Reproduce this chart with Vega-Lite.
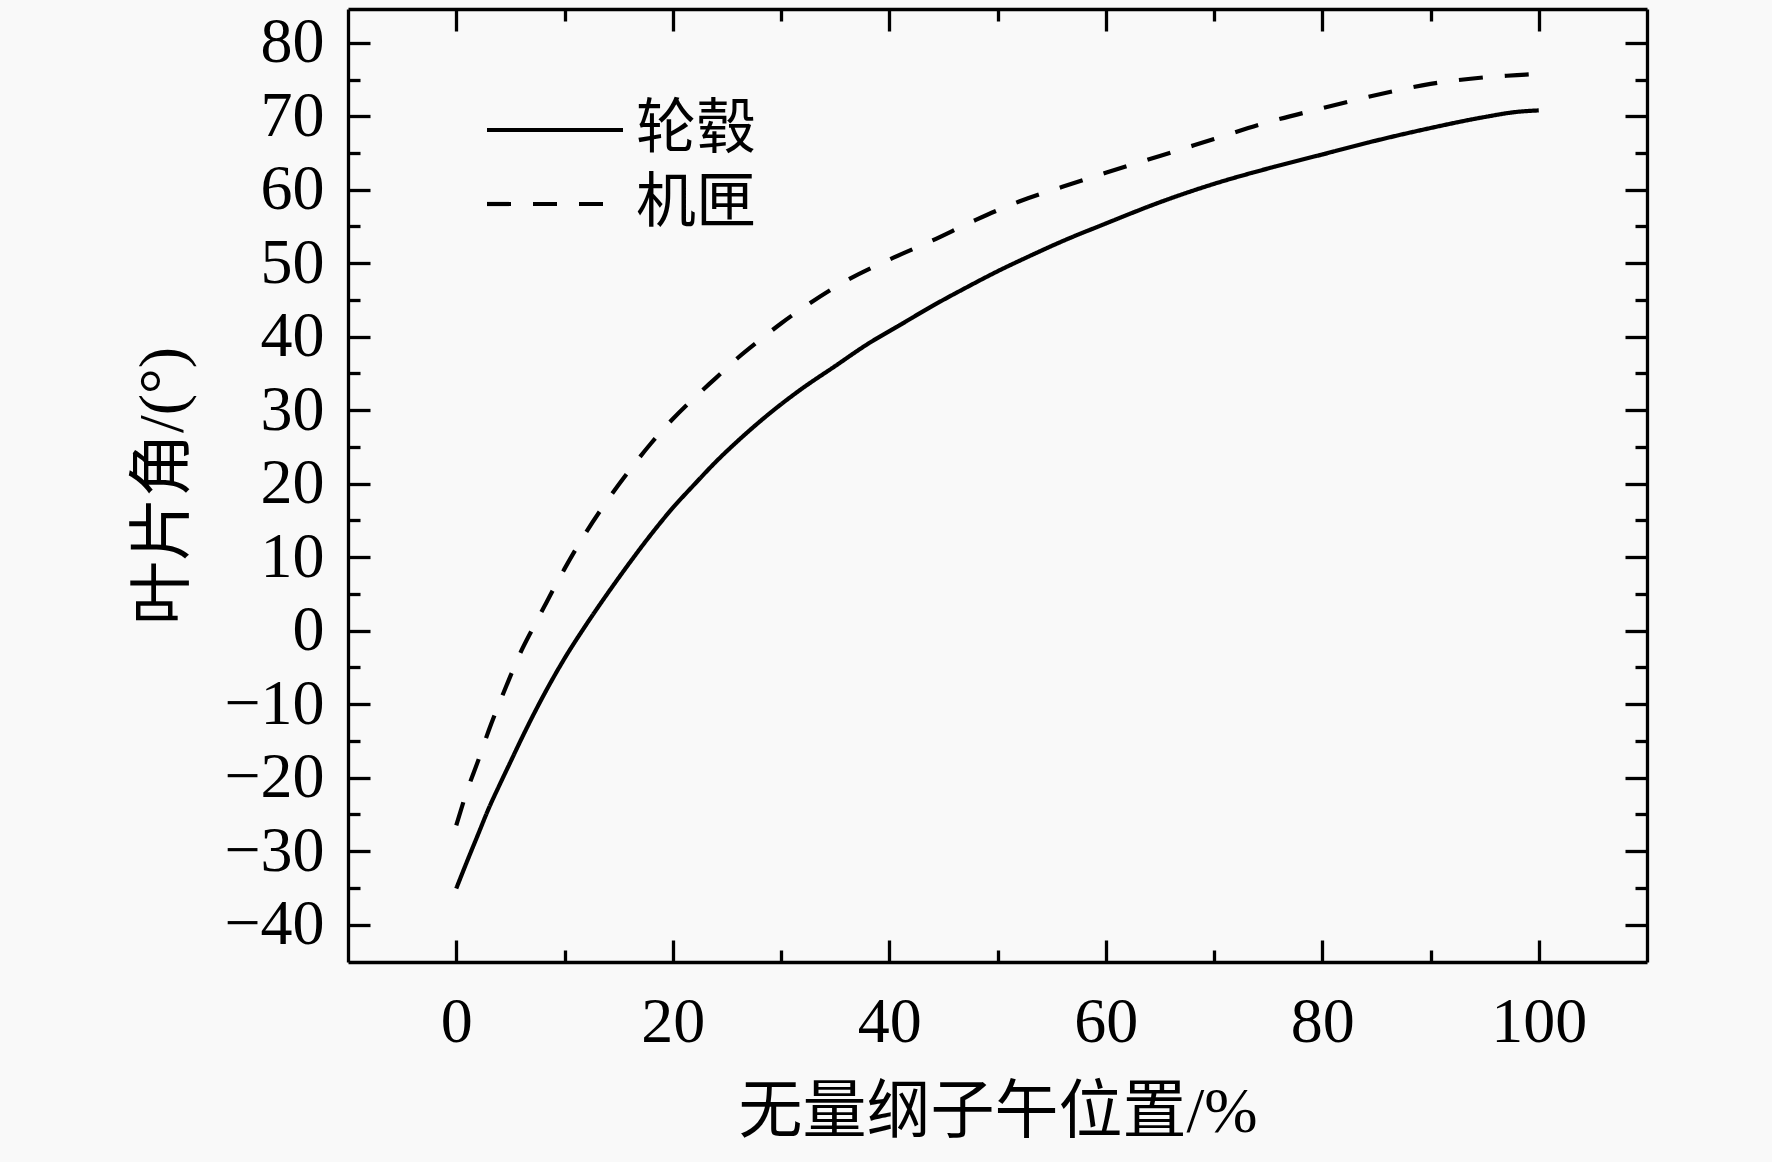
{
  "$schema": "https://vega.github.io/schema/vega-lite/v6.json",
  "width": 1299,
  "height": 953,
  "autosize": {"type": "none"},
  "padding": {"left": 348, "top": 9, "right": 125, "bottom": 200},
  "background": "#f9f9f9",
  "config": {
    "view": {"stroke": null},
    "axis": {
      "grid": false,
      "domainColor": "black",
      "domainWidth": 3.3,
      "tickColor": "black",
      "tickWidth": 3.3,
      "labelColor": "black",
      "labelFont": "Liberation Serif",
      "labelFontSize": 64,
      "titleColor": "black",
      "titleFont": "Liberation Serif, Noto Sans CJK SC",
      "titleFontSize": 64,
      "titleFontWeight": "normal"
    }
  },
  "data": {
    "values": [
      {"x": 0, "y": -35.1, "s": "轮毂"},
      {"x": 1, "y": -31.4, "s": "轮毂"},
      {"x": 2, "y": -27.8, "s": "轮毂"},
      {"x": 3, "y": -24.2, "s": "轮毂"},
      {"x": 4, "y": -21.0, "s": "轮毂"},
      {"x": 5, "y": -17.9, "s": "轮毂"},
      {"x": 6, "y": -14.8, "s": "轮毂"},
      {"x": 8, "y": -9.0, "s": "轮毂"},
      {"x": 10, "y": -3.8, "s": "轮毂"},
      {"x": 12, "y": 0.8, "s": "轮毂"},
      {"x": 14, "y": 5.1, "s": "轮毂"},
      {"x": 16, "y": 9.2, "s": "轮毂"},
      {"x": 18, "y": 13.1, "s": "轮毂"},
      {"x": 20, "y": 16.7, "s": "轮毂"},
      {"x": 22, "y": 19.9, "s": "轮毂"},
      {"x": 24, "y": 23.0, "s": "轮毂"},
      {"x": 26, "y": 25.8, "s": "轮毂"},
      {"x": 28, "y": 28.4, "s": "轮毂"},
      {"x": 30, "y": 30.8, "s": "轮毂"},
      {"x": 32, "y": 33.0, "s": "轮毂"},
      {"x": 35, "y": 36.0, "s": "轮毂"},
      {"x": 38, "y": 39.0, "s": "轮毂"},
      {"x": 41, "y": 41.6, "s": "轮毂"},
      {"x": 44, "y": 44.2, "s": "轮毂"},
      {"x": 47, "y": 46.6, "s": "轮毂"},
      {"x": 50, "y": 48.9, "s": "轮毂"},
      {"x": 53, "y": 51.0, "s": "轮毂"},
      {"x": 56, "y": 53.0, "s": "轮毂"},
      {"x": 60, "y": 55.4, "s": "轮毂"},
      {"x": 65, "y": 58.3, "s": "轮毂"},
      {"x": 70, "y": 60.8, "s": "轮毂"},
      {"x": 75, "y": 62.9, "s": "轮毂"},
      {"x": 80, "y": 64.8, "s": "轮毂"},
      {"x": 85, "y": 66.7, "s": "轮毂"},
      {"x": 90, "y": 68.4, "s": "轮毂"},
      {"x": 95, "y": 69.9, "s": "轮毂"},
      {"x": 98, "y": 70.6, "s": "轮毂"},
      {"x": 100, "y": 70.8, "s": "轮毂"},
      {"x": 0, "y": -26.5, "s": "机匣"},
      {"x": 1, "y": -21.8, "s": "机匣"},
      {"x": 2, "y": -17.8, "s": "机匣"},
      {"x": 3, "y": -13.6, "s": "机匣"},
      {"x": 4, "y": -9.8, "s": "机匣"},
      {"x": 5, "y": -6.2, "s": "机匣"},
      {"x": 6, "y": -2.8, "s": "机匣"},
      {"x": 7, "y": 0.1, "s": "机匣"},
      {"x": 8, "y": 2.9, "s": "机匣"},
      {"x": 9, "y": 5.7, "s": "机匣"},
      {"x": 10, "y": 8.4, "s": "机匣"},
      {"x": 12, "y": 13.4, "s": "机匣"},
      {"x": 14, "y": 17.8, "s": "机匣"},
      {"x": 16, "y": 21.8, "s": "机匣"},
      {"x": 18, "y": 25.5, "s": "机匣"},
      {"x": 20, "y": 28.8, "s": "机匣"},
      {"x": 22, "y": 31.7, "s": "机匣"},
      {"x": 24, "y": 34.4, "s": "机匣"},
      {"x": 26, "y": 37.1, "s": "机匣"},
      {"x": 28, "y": 39.5, "s": "机匣"},
      {"x": 30, "y": 41.8, "s": "机匣"},
      {"x": 32, "y": 43.9, "s": "机匣"},
      {"x": 36, "y": 47.6, "s": "机匣"},
      {"x": 40, "y": 50.5, "s": "机匣"},
      {"x": 44, "y": 53.1, "s": "机匣"},
      {"x": 48, "y": 55.9, "s": "机匣"},
      {"x": 52, "y": 58.4, "s": "机匣"},
      {"x": 56, "y": 60.4, "s": "机匣"},
      {"x": 60, "y": 62.3, "s": "机匣"},
      {"x": 65, "y": 64.6, "s": "机匣"},
      {"x": 70, "y": 66.9, "s": "机匣"},
      {"x": 75, "y": 69.2, "s": "机匣"},
      {"x": 80, "y": 71.1, "s": "机匣"},
      {"x": 85, "y": 72.9, "s": "机匣"},
      {"x": 90, "y": 74.4, "s": "机匣"},
      {"x": 95, "y": 75.3, "s": "机匣"},
      {"x": 98, "y": 75.6, "s": "机匣"},
      {"x": 100, "y": 75.8, "s": "机匣"}
    ]
  },
  "layer": [
    {
      "mark": {"type": "line", "color": "black", "strokeWidth": 4.2, "interpolate": "monotone"},
      "encoding": {
        "x": {
          "field": "x",
          "type": "quantitative",
          "scale": {"domain": [-10, 110], "nice": false, "zero": false},
          "axis": {
            "orient": "bottom",
            "values": [0, 20, 40, 60, 80, 100],
            "tickSize": -22,
            "labelPadding": 50,
            "title": "无量纲子午位置/%",
            "titlePadding": 26
          }
        },
        "y": {
          "field": "y",
          "type": "quantitative",
          "scale": {"domain": [-45.1, 84.6], "nice": false, "zero": false},
          "axis": {
            "orient": "left",
            "values": [-40, -30, -20, -10, 0, 10, 20, 30, 40, 50, 60, 70, 80],
            "tickSize": -22,
            "labelPadding": 46,
            "title": "叶片角/(°)",
            "titlePadding": 28
          }
        },
        "strokeDash": {
          "field": "s",
          "type": "nominal",
          "scale": {"domain": ["轮毂", "机匣"], "range": [[1, 0], [24, 22]]},
          "legend": {
            "orient": "none",
            "legendX": 177,
            "legendY": 91,
            "title": null,
            "padding": 0,
            "symbolType": "M-4,0L4,0",
            "symbolSize": 1156,
            "symbolStrokeWidth": 4.2,
            "symbolStrokeColor": "black",
            "labelFont": "Noto Sans CJK SC",
            "labelFontSize": 60,
            "labelColor": "black",
            "labelOffset": 51,
            "rowPadding": 14
          }
        }
      }
    },
    {
      "mark": {"type": "line", "opacity": 0},
      "encoding": {
        "detail": {"field": "s"},
        "x": {
          "field": "x",
          "type": "quantitative",
          "scale": {"domain": [-10, 110], "nice": false, "zero": false},
          "axis": {"orient": "bottom", "values": [10, 30, 50, 70, 90], "tickSize": -12, "labels": false, "domain": false, "title": null}
        },
        "y": {
          "field": "y",
          "type": "quantitative",
          "scale": {"domain": [-45.1, 84.6], "nice": false, "zero": false},
          "axis": {"orient": "left", "values": [-35, -25, -15, -5, 5, 15, 25, 35, 45, 55, 65, 75], "tickSize": -12, "labels": false, "domain": false, "title": null}
        }
      }
    },
    {
      "mark": {"type": "line", "opacity": 0},
      "encoding": {
        "detail": {"field": "s"},
        "x": {
          "field": "x",
          "type": "quantitative",
          "scale": {"domain": [-10, 110], "nice": false, "zero": false},
          "axis": {"orient": "top", "values": [0, 20, 40, 60, 80, 100], "tickSize": -22, "labels": false, "title": null}
        },
        "y": {
          "field": "y",
          "type": "quantitative",
          "scale": {"domain": [-45.1, 84.6], "nice": false, "zero": false},
          "axis": {"orient": "right", "values": [-40, -30, -20, -10, 0, 10, 20, 30, 40, 50, 60, 70, 80], "tickSize": -22, "labels": false, "title": null}
        }
      }
    },
    {
      "mark": {"type": "line", "opacity": 0},
      "encoding": {
        "detail": {"field": "s"},
        "x": {
          "field": "x",
          "type": "quantitative",
          "scale": {"domain": [-10, 110], "nice": false, "zero": false},
          "axis": {"orient": "top", "values": [10, 30, 50, 70, 90], "tickSize": -12, "labels": false, "domain": false, "title": null}
        },
        "y": {
          "field": "y",
          "type": "quantitative",
          "scale": {"domain": [-45.1, 84.6], "nice": false, "zero": false},
          "axis": {"orient": "right", "values": [-35, -25, -15, -5, 5, 15, 25, 35, 45, 55, 65, 75], "tickSize": -12, "labels": false, "domain": false, "title": null}
        }
      }
    }
  ],
  "resolve": {"axis": {"x": "independent", "y": "independent"}}
}
